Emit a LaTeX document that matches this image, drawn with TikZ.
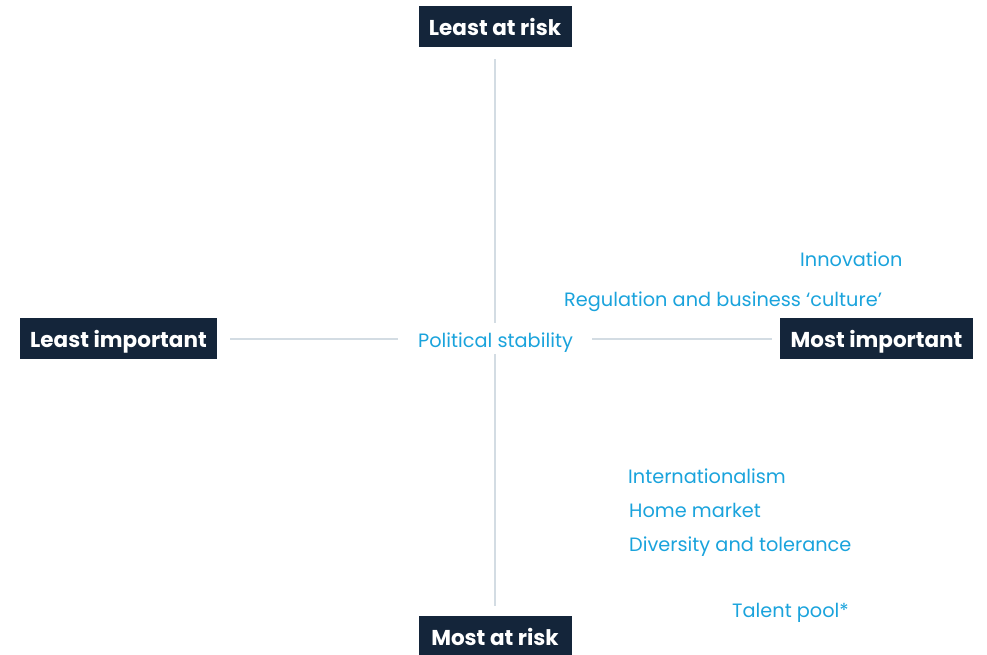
\documentclass[tikz,border=0pt]{standalone}
\usepackage{fontspec}
\setmainfont{Poppins}
\definecolor{navy}{HTML}{14253A}
\definecolor{skyblue}{HTML}{1AA3DC}
\definecolor{axisgrey}{HTML}{D3DCE3}
\begin{document}
\begin{tikzpicture}[x=1pt,y=-1pt,
  poleBox/.style={fill=navy,text=white,font=\fontsize{21.5}{25}\selectfont\bfseries,inner sep=0pt,anchor=center,text height=17pt,text depth=0pt,minimum height=41},
  factor/.style={text=skyblue,font=\fontsize{19.3}{23}\selectfont,inner sep=0pt},
  axisline/.style={draw=axisgrey,line width=2.5pt}]
\useasboundingbox (0,0) rectangle (987,654);
% pole boxes
\node[poleBox,minimum width=153] (top) at (495,26.5) {Least at risk};
\node[poleBox,minimum width=153] (bottom) at (495,636.5) {Most at risk};
\node[poleBox,minimum width=197] (left) at (118.5,338.5) {Least important};
\node[poleBox,minimum width=193] (right) at (876.5,338.5) {Most important};
% centre label
\node[factor,anchor=base] (centre) at (495.5,347) {Political stability};
% axis anchors
\coordinate (vt1) at (495,59);
\coordinate (vt2) at (495,323);
\coordinate (vb1) at (495,354);
\coordinate (vb2) at (495,606);
\coordinate (hl1) at (230,339);
\coordinate (hl2) at (398,339);
\coordinate (hr1) at (592,339);
\coordinate (hr2) at (772,339);
\draw[axisline] (vt1) -- (vt2);
\draw[axisline] (vb1) -- (vb2);
\draw[axisline] (hl1) -- (hl2);
\draw[axisline] (hr1) -- (hr2);
% factors
\node[factor,anchor=base west] (innov) at (800,266) {Innovation};
\node[factor,anchor=base west] (reg) at (564,306.5) {Regulation and business ‘culture’};
\node[factor,anchor=base west] (intl) at (628,483) {Internationalism};
\node[factor,anchor=base west] (home) at (629,517.5) {Home market};
\node[factor,anchor=base west] (div) at (629,551) {Diversity and tolerance};
\node[factor,anchor=base west] (talent) at (732,617) {Talent pool*};
\end{tikzpicture}
\end{document}
